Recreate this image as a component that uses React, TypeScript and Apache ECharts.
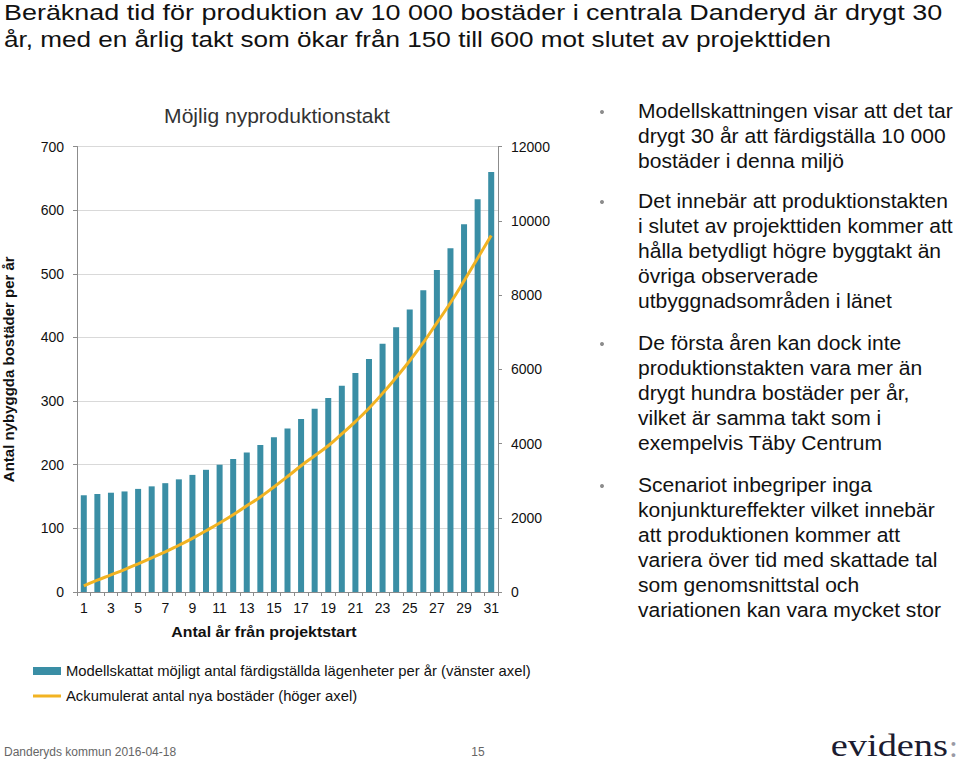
import React, { useEffect, useRef } from "react";
import * as echarts from "echarts";

const categories = Array.from({ length: 31 }, (_, i) => String(i + 1));
const annualUnits = [152, 154, 156, 158, 162, 166, 171, 177, 184, 192, 200, 209, 219, 231, 243, 257, 272, 288, 305, 324, 344, 366, 390, 416, 444, 474, 506, 540, 578, 617, 660];
const cumulativeUnits = [165, 320, 460, 605, 760, 920, 1080, 1260, 1445, 1650, 1860, 2080, 2320, 2560, 2830, 3110, 3400, 3670, 3940, 4260, 4590, 4950, 5350, 5780, 6230, 6720, 7250, 7790, 8380, 8990, 9600];
const leftTicks = { min: 0, max: 700, interval: 100 };
const rightTicks = { min: 0, max: 12000, interval: 2000 };

const titleLines = [
  "Beräknad tid för produktion av 10 000 bostäder i centrala Danderyd är drygt 30",
  "år, med en årlig takt som ökar från 150 till 600 mot slutet av projekttiden",
];
const titleStretch = [1.252, 1.215];
const chartTitle = "Möjlig nyproduktionstakt";
const leftAxisName = "Antal nybyggda bostäder per år";
const xAxisName = "Antal år från projektstart";
const barName = "Modellskattat möjligt antal färdigställda lägenheter per år (vänster axel)";
const lineName = "Ackumulerat antal nya bostäder (höger axel)";
const bullets = [
  ["Modellskattningen visar att det tar", "drygt 30 år att färdigställa 10 000", "bostäder i denna miljö"],
  ["Det innebär att produktionstakten", "i slutet av projekttiden kommer att", "hålla betydligt högre byggtakt än", "övriga observerade", "utbyggnadsområden i länet"],
  ["De första åren kan dock inte", "produktionstakten vara mer än", "drygt hundra bostäder per år,", "vilket är samma takt som i", "exempelvis Täby Centrum"],
  ["Scenariot inbegriper inga", "konjunktureffekter vilket innebär", "att produktionen kommer att", "variera över tid med skattade tal", "som genomsnittstal och", "variationen kan vara mycket stor"],
];
const bulletTops = [111, 201, 343, 485];
const footerLeft = "Danderyds kommun 2016-04-18";
const footerPage = "15";
const logoWord = "evidens";
const logoColon = ":";

const FONT = "'Liberation Sans', Arial, Helvetica, sans-serif";
const SERIF = "'Liberation Serif', 'DejaVu Serif', serif";
const BAR_COLOR = "#3a8ea5";
const LINE_COLOR = "#f2b322";
const LINE_ICON = "path://M0,0 L0,0 Z M0,2.5 L28,2.5 L28,5.5 L0,5.5 Z M28,8 L28,8 Z";

export default function App() {
  const ref = useRef<HTMLDivElement>(null);
  useEffect(() => {
    document.body.style.margin = "0";
    const chart = echarts.init(ref.current!, null, { renderer: "svg" });
    const graphics: any[] = [];
    titleLines.forEach((t, i) => {
      graphics.push({
        type: "text", x: 4, y: 12.5 + i * 27, scaleX: titleStretch[i],
        style: { text: t, font: `21.5px ${FONT}`, fill: "#111", verticalAlign: "middle" },
      });
    });
    graphics.push({
      type: "text", x: 277, y: 116, scaleX: 1.08,
      style: { text: chartTitle, font: `19.5px ${FONT}`, fill: "#333", align: "center", verticalAlign: "middle" },
    });
    graphics.push({
      type: "text", x: 264, y: 632, scaleX: 1.06,
      style: { text: xAxisName, font: `bold 15px ${FONT}`, fill: "#111", align: "center", verticalAlign: "middle" },
    });
    bullets.forEach((lines, bi) => {
      graphics.push({
        type: "circle", shape: { cx: 602, cy: bulletTops[bi] + 1, r: 2 },
        style: { fill: "#8c8c8c" },
      });
      lines.forEach((line, li) => {
        graphics.push({
          type: "text", x: 638, y: bulletTops[bi] + li * 25.1, scaleX: 1.08,
          style: { text: line, font: `19.5px ${FONT}`, fill: "#111", verticalAlign: "middle" },
        });
      });
    });
    graphics.push({
      type: "text", x: 4, y: 752,
      style: { text: footerLeft, font: `12px ${FONT}`, fill: "#666", verticalAlign: "middle" },
    });
    graphics.push({
      type: "text", x: 478, y: 752,
      style: { text: footerPage, font: `12px ${FONT}`, fill: "#666", align: "center", verticalAlign: "middle" },
    });
    graphics.push({
      type: "text", x: 948, y: 746, scaleX: 1.2,
      style: { text: logoWord, font: `32px ${SERIF}`, fill: "#1c1c30", align: "right", verticalAlign: "middle" },
    });
    graphics.push({
      type: "text", x: 949, y: 746,
      style: { text: logoColon, font: `32px ${SERIF}`, fill: "#9a9aa5", align: "left", verticalAlign: "middle" },
    });

    chart.setOption({
      animation: false,
      backgroundColor: "#fff",
      textStyle: { fontFamily: FONT },
      grid: { left: 69, right: 462, top: 146.5, bottom: 172 },
      legend: {
        orient: "vertical", left: 28, top: 658, itemWidth: 28, itemHeight: 8, itemGap: 9,
        textStyle: { fontSize: 14.8, color: "#111", fontFamily: FONT, lineHeight: 16 },
        data: [
          { name: barName, icon: "rect" },
          { name: lineName, icon: LINE_ICON, itemStyle: { color: LINE_COLOR } },
        ],
      },
      xAxis: {
        type: "category", data: categories,
        axisLine: { lineStyle: { color: "#8c8c8c" } },
        axisTick: { show: true, interval: 0, length: 4, lineStyle: { color: "#8c8c8c" } },
        axisLabel: { interval: 1, fontSize: 14, color: "#111", margin: 9 },
      },
      yAxis: [
        {
          type: "value", ...leftTicks,
          name: leftAxisName, nameLocation: "middle", nameGap: 61,
          nameTextStyle: { fontSize: 15, fontWeight: "bold", color: "#111" },
          axisLine: { show: true, lineStyle: { color: "#8c8c8c" } },
          axisTick: { show: true, length: 4, lineStyle: { color: "#8c8c8c" } },
          axisLabel: { fontSize: 14, color: "#111", margin: 13 },
          splitLine: { lineStyle: { color: "#d9d9d9" } },
        },
        {
          type: "value", ...rightTicks, position: "right",
          axisLine: { show: true, lineStyle: { color: "#8c8c8c" } },
          axisTick: { show: true, length: 4, lineStyle: { color: "#8c8c8c" } },
          axisLabel: { fontSize: 14, color: "#111", margin: 13, formatter: (v: number) => String(v) },
          splitLine: { show: false },
        },
      ],
      series: [
        {
          name: barName, type: "bar", data: annualUnits, yAxisIndex: 0,
          barWidth: 6, itemStyle: { color: BAR_COLOR },
        },
        {
          name: lineName, type: "line", data: cumulativeUnits, yAxisIndex: 1,
          symbol: "none", smooth: true, lineStyle: { color: LINE_COLOR, width: 3 },
          itemStyle: { color: LINE_COLOR },
        },
      ],
      graphic: graphics,
    });
    return () => chart.dispose();
  }, []);
  return <div ref={ref} style={{ width: 960, height: 764 }} />;
}
